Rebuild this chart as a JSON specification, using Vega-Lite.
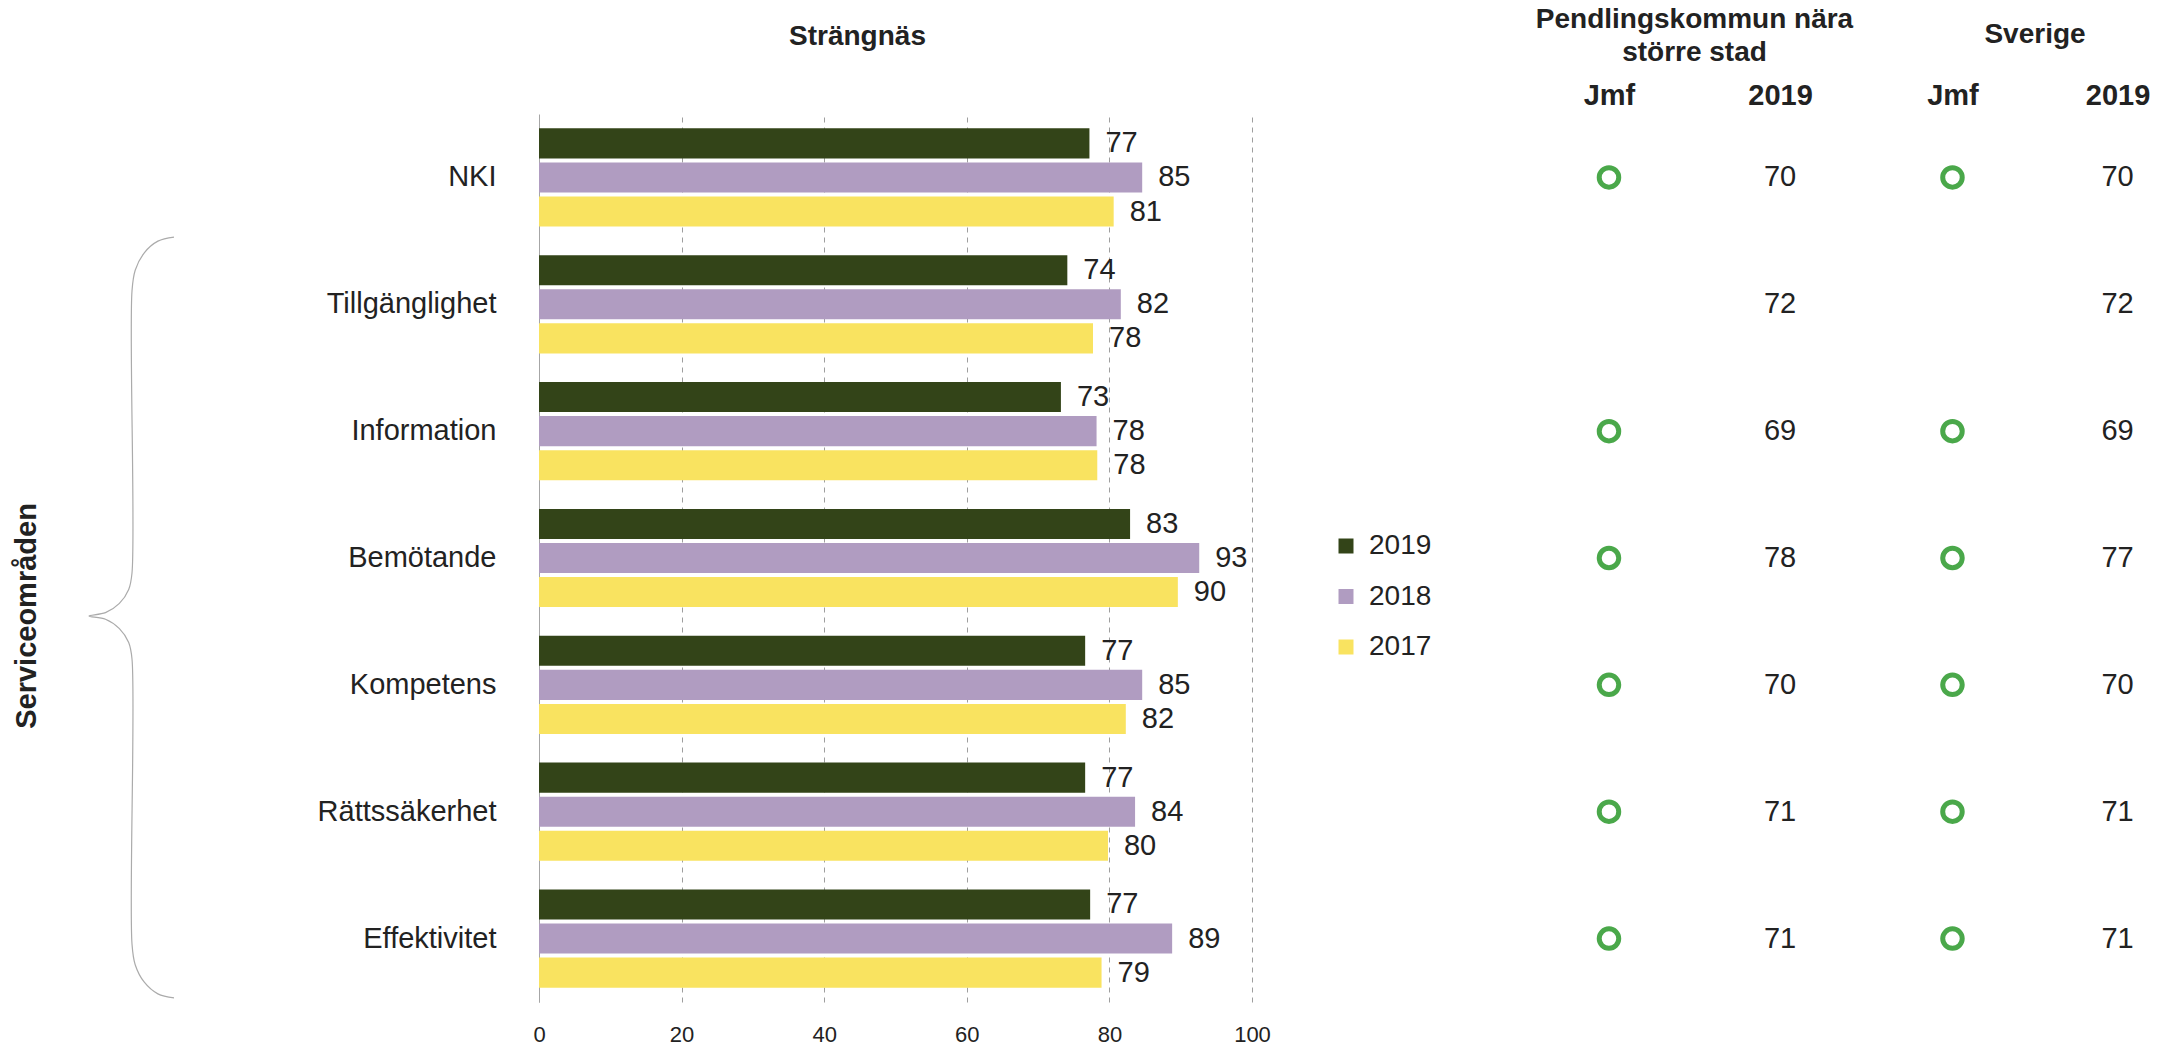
{
  "$schema": "https://vega.github.io/schema/vega-lite/v6.json",
  "padding": {"top": 6, "left": 0, "right": 0, "bottom": 0},
  "background": "white",
  "config": {"font": "Liberation Sans", "view": {"stroke": null}, "title": {"color": "#222222"}},
  "datasets": {
    "bars": [
      {"kat": "NKI", "ar": "2019", "v": 77.2}, {"kat": "NKI", "ar": "2018", "v": 84.6}, {"kat": "NKI", "ar": "2017", "v": 80.6},
      {"kat": "Tillgänglighet", "ar": "2019", "v": 74.1}, {"kat": "Tillgänglighet", "ar": "2018", "v": 81.6}, {"kat": "Tillgänglighet", "ar": "2017", "v": 77.7},
      {"kat": "Information", "ar": "2019", "v": 73.2}, {"kat": "Information", "ar": "2018", "v": 78.2}, {"kat": "Information", "ar": "2017", "v": 78.3},
      {"kat": "Bemötande", "ar": "2019", "v": 82.9}, {"kat": "Bemötande", "ar": "2018", "v": 92.6}, {"kat": "Bemötande", "ar": "2017", "v": 89.6},
      {"kat": "Kompetens", "ar": "2019", "v": 76.6}, {"kat": "Kompetens", "ar": "2018", "v": 84.6}, {"kat": "Kompetens", "ar": "2017", "v": 82.3},
      {"kat": "Rättssäkerhet", "ar": "2019", "v": 76.6}, {"kat": "Rättssäkerhet", "ar": "2018", "v": 83.6}, {"kat": "Rättssäkerhet", "ar": "2017", "v": 79.8},
      {"kat": "Effektivitet", "ar": "2019", "v": 77.3}, {"kat": "Effektivitet", "ar": "2018", "v": 88.8}, {"kat": "Effektivitet", "ar": "2017", "v": 78.9}
    ],
    "tab": [
      {"kat": "NKI", "pk": 70, "sv": 70, "jmf": true},
      {"kat": "Tillgänglighet", "pk": 72, "sv": 72, "jmf": false},
      {"kat": "Information", "pk": 69, "sv": 69, "jmf": true},
      {"kat": "Bemötande", "pk": 78, "sv": 77, "jmf": true},
      {"kat": "Kompetens", "pk": 70, "sv": 70, "jmf": true},
      {"kat": "Rättssäkerhet", "pk": 71, "sv": 71, "jmf": true},
      {"kat": "Effektivitet", "pk": 71, "sv": 71, "jmf": true}
    ],
    "brace": [
      {"i": 0, "bx": 174, "by": 0.970}, {"i": 1, "bx": 157.9, "by": 1.002}, {"i": 2, "bx": 144.3, "by": 1.094},
      {"i": 3, "bx": 135.2, "by": 1.232}, {"i": 4, "bx": 132, "by": 1.395}, {"i": 5, "bx": 132, "by": 3.618},
      {"i": 6, "bx": 128.7, "by": 3.748}, {"i": 7, "bx": 119.4, "by": 3.858}, {"i": 8, "bx": 105.5, "by": 3.931},
      {"i": 9, "bx": 89, "by": 3.957}, {"i": 10, "bx": 105.5, "by": 3.983}, {"i": 11, "bx": 119.4, "by": 4.057},
      {"i": 12, "bx": 128.7, "by": 4.166}, {"i": 13, "bx": 132, "by": 4.296}, {"i": 14, "bx": 132, "by": 6.543},
      {"i": 15, "bx": 135.2, "by": 6.706}, {"i": 16, "bx": 144.3, "by": 6.844}, {"i": 17, "bx": 157.9, "by": 6.936},
      {"i": 18, "bx": 174, "by": 6.968}
    ]
  },
  "spacing": 273,
  "bounds": "flush",
  "resolve": {"legend": {"color": "independent"}},
  "hconcat": [
    {
      "width": 266,
      "height": 888,
      "layer": [
        {
          "data": {"name": "brace"},
          "mark": {"type": "line", "stroke": "#ababab", "strokeWidth": 1.2, "interpolate": "catmull-rom"},
          "encoding": {
            "x": {"field": "bx", "type": "quantitative", "scale": {"domain": [0, 266], "nice": false, "zero": false}, "axis": null},
            "y": {"field": "by", "type": "quantitative", "scale": {"domain": [0, 7], "nice": false, "reverse": true}, "axis": null},
            "order": {"field": "i", "type": "quantitative"}
          }
        },
        {
          "data": {"values": [{}]},
          "mark": {"type": "text", "text": "Serviceområden", "angle": 270, "fontSize": 29, "fontWeight": "bold", "color": "#222222", "align": "center", "baseline": "middle"},
          "encoding": {
            "x": {"datum": 27, "type": "quantitative"},
            "y": {"datum": 3.957, "type": "quantitative"}
          }
        }
      ]
    },
    {
      "width": 713,
      "height": 888,
      "title": {"text": "Strängnäs", "fontSize": 28, "fontWeight": "bold", "offset": 63, "dx": -38},
      "data": {"name": "bars"},
      "encoding": {
        "y": {
          "field": "kat", "type": "nominal",
          "sort": ["NKI", "Tillgänglighet", "Information", "Bemötande", "Kompetens", "Rättssäkerhet", "Effektivitet"],
          "scale": {"paddingInner": 0, "paddingOuter": 0},
          "axis": {"title": null, "ticks": false, "domain": true, "domainColor": "#a6a6a6", "domainWidth": 1, "labelFontSize": 29, "labelPadding": 43, "labelColor": "#222222", "grid": false}
        },
        "yOffset": {"field": "ar", "type": "nominal", "sort": ["2019", "2018", "2017"], "scale": {"paddingInner": 0.118, "paddingOuter": 0.42}},
        "x": {
          "field": "v", "type": "quantitative",
          "scale": {"domain": [0, 100], "nice": false},
          "axis": {"title": null, "values": [0, 20, 40, 60, 80, 100], "grid": true, "gridDash": [5, 5], "gridColor": "#9e9e9e", "domain": false, "ticks": false, "labelFontSize": 22, "labelPadding": 22, "labelFlush": false, "labelColor": "#222222"}
        }
      },
      "layer": [
        {
          "mark": {"type": "bar"},
          "encoding": {
            "color": {
              "field": "ar", "type": "nominal",
              "scale": {"domain": ["2019", "2018", "2017"], "range": ["#334418", "#b09cc1", "#f9e360"]},
              "legend": {"orient": "none", "legendX": 793, "legendY": 418, "title": null, "labelFontSize": 28, "labelColor": "#222222", "symbolType": "square", "symbolSize": 225, "symbolStrokeWidth": 0, "rowPadding": 22.5, "labelOffset": 9}
            }
          }
        },
        {
          "mark": {"type": "text", "align": "left", "baseline": "middle", "dx": 16, "fontSize": 29, "color": "#222222"},
          "encoding": {"text": {"field": "v", "type": "quantitative", "format": ".0f"}}
        }
      ]
    },
    {
      "spacing": 33,
      "bounds": "flush",
      "hconcat": [
        {
          "width": 339,
          "height": 888,
          "title": {"text": ["Pendlingskommun nära", "större stad"], "fontSize": 28, "fontWeight": "bold", "lineHeight": 33, "offset": 14},
          "data": {"name": "tab"},
          "encoding": {
            "y": {"field": "kat", "type": "nominal", "sort": ["NKI", "Tillgänglighet", "Information", "Bemötande", "Kompetens", "Rättssäkerhet", "Effektivitet"], "scale": {"paddingInner": 0, "paddingOuter": 0}, "axis": null}
          },
          "layer": [
            {
              "transform": [{"filter": "datum.jmf"}],
              "mark": {"type": "point", "shape": "circle", "filled": false, "stroke": "#4aa84a", "strokeWidth": 5, "size": 380, "opacity": 1},
              "encoding": {
                "x": {"datum": "Jmf", "type": "nominal", "scale": {"type": "point", "domain": ["Jmf", "2019"], "padding": 0.491}, "axis": {"orient": "top", "title": null, "ticks": false, "domain": false, "labelFontSize": 29, "labelFontWeight": "bold", "labelColor": "#222222", "labelPadding": 4, "labelAngle": 0}}
              }
            },
            {
              "mark": {"type": "text", "fontSize": 29, "color": "#222222", "baseline": "middle", "align": "center"},
              "encoding": {
                "x": {"datum": "2019", "type": "nominal"},
                "text": {"field": "pk", "type": "quantitative"}
              }
            }
          ]
        },
        {
          "width": 276,
          "height": 888,
          "title": {"text": "Sverige", "fontSize": 28, "fontWeight": "bold", "offset": 32},
          "data": {"name": "tab"},
          "encoding": {
            "y": {"field": "kat", "type": "nominal", "sort": ["NKI", "Tillgänglighet", "Information", "Bemötande", "Kompetens", "Rättssäkerhet", "Effektivitet"], "scale": {"paddingInner": 0, "paddingOuter": 0}, "axis": null}
          },
          "layer": [
            {
              "transform": [{"filter": "datum.jmf"}],
              "mark": {"type": "point", "shape": "circle", "filled": false, "stroke": "#4aa84a", "strokeWidth": 5, "size": 380, "opacity": 1},
              "encoding": {
                "x": {"datum": "Jmf", "type": "nominal", "scale": {"type": "point", "domain": ["Jmf", "2019"], "padding": 0.336}, "axis": {"orient": "top", "title": null, "ticks": false, "domain": false, "labelFontSize": 29, "labelFontWeight": "bold", "labelColor": "#222222", "labelPadding": 4, "labelAngle": 0}}
              }
            },
            {
              "mark": {"type": "text", "fontSize": 29, "color": "#222222", "baseline": "middle", "align": "center"},
              "encoding": {
                "x": {"datum": "2019", "type": "nominal"},
                "text": {"field": "sv", "type": "quantitative"}
              }
            }
          ]
        }
      ]
    }
  ]
}
